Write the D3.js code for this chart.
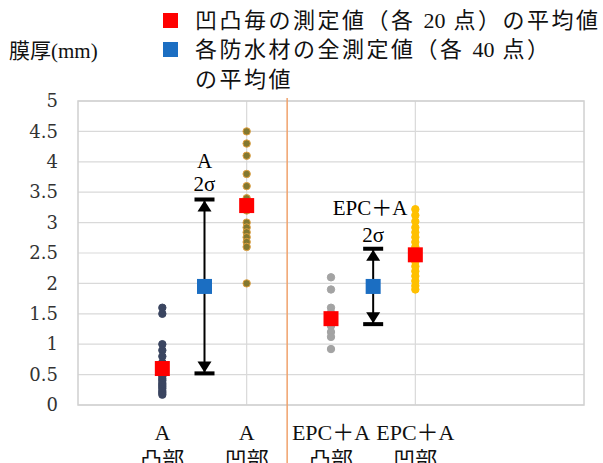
<!DOCTYPE html>
<html>
<head>
<meta charset="utf-8">
<script src="https://cdn.jsdelivr.net/npm/d3@7"></script>
<style>
  html, body { margin: 0; padding: 0; background: #fff; }
  svg { display: block; }
  .serif { font-family: "Liberation Serif", "Noto Sans CJK JP", serif; }
  .tick-num { font-family: "DejaVu Serif", serif; }
</style>
</head>
<body>
<script>
// Category labels (two lines each) and their x positions on the plot axis
const catLine1 = ["A", "A", "EPC＋A", "EPC＋A"];
const catLine2 = ["凸部", "凹部", "凸部", "凹部"];
const catX = [1, 2, 3, 4];

// Individual film-thickness readings (mm) per category
const aConvex = [1.6, 1.5, 1.0, 0.9, 0.8, 0.7, 0.65, 0.6, 0.55, 0.5, 0.47, 0.43, 0.4, 0.36, 0.33, 0.3, 0.27, 0.23, 0.2, 0.17];
const aConcave = [4.5, 4.3, 4.1, 3.8, 3.6, 3.4, 3.3, 3.2, 3.0, 2.92, 2.84, 2.76, 2.68, 2.6, 2.0];
const epcConvex = [2.1, 1.9, 1.6, 1.52, 1.45, 1.4, 1.3, 1.2, 1.12, 0.92];
const epcConcave = [3.22, 3.12, 3.02, 2.92, 2.84, 2.76, 2.68, 2.6, 2.52, 2.44, 2.36, 2.28, 2.2, 2.12, 2.04, 1.96, 1.9];

// Mean of each category (20 readings each)
const groupMeans = [0.6, 3.28, 1.42, 2.47];

// Mean of all 40 readings per material, with ±2σ range
const materialX = [1.5, 3.5];
const materialMeans = [1.95, 1.95];
const sigmaLow = [0.52, 1.33];
const sigmaHigh = [3.38, 2.57];
const materialLabel = ["A", "EPC＋A"];

const yTicks = [0, 0.5, 1, 1.5, 2, 2.5, 3, 3.5, 4, 4.5, 5];
const yTickLabels = ["0", "0.5", "1", "1.5", "2", "2.5", "3", "3.5", "4", "4.5", "5"];

// Legend lines, split so the digits keep normal spacing
const legendParts = [
  ["凹凸毎の測定値（各 ", "20", " 点）の平均値"],
  ["各防水材の全測定値（各 ", "40", " 点）"],
  ["の平均値"]
];

const W = 603, H = 463;
const svg = d3.select("body").append("svg").attr("width", W).attr("height", H);

const plot = { left: 78, right: 584, top: 101, bottom: 405 };
const x = d3.scaleLinear().domain([0, 6]).range([plot.left, plot.right]);
const y = d3.scaleLinear().domain([0, 5]).range([plot.bottom, plot.top]);

// Gridlines
const grid = svg.append("g");
grid.selectAll("line.h").data(yTicks).join("line")
  .attr("x1", plot.left).attr("x2", plot.right)
  .attr("y1", d => y(d)).attr("y2", d => y(d))
  .attr("stroke", "#d9d9d9").attr("stroke-width", 1.2);
grid.selectAll("line.v").data([2, 4]).join("line")
  .attr("x1", d => x(d)).attr("x2", d => x(d))
  .attr("y1", plot.top).attr("y2", plot.bottom)
  .attr("stroke", "#d9d9d9").attr("stroke-width", 1.2);
grid.append("rect")
  .attr("x", plot.left).attr("y", plot.top)
  .attr("width", plot.right - plot.left).attr("height", plot.bottom - plot.top)
  .attr("fill", "none").attr("stroke", "#d0d0d0").attr("stroke-width", 1.5);

// Divider between the two materials
svg.append("line")
  .attr("x1", x(2.48)).attr("x2", x(2.48))
  .attr("y1", plot.top - 3).attr("y2", H)
  .attr("stroke", "#f0a26c").attr("stroke-width", 1.5);

// Y axis tick labels
const yAxis = d3.axisLeft(y).tickValues(yTicks)
  .tickFormat((d, i) => yTickLabels[i]).tickSize(0).tickPadding(0);
const yg = svg.append("g").attr("transform", `translate(${plot.left - 20},0)`).call(yAxis);
yg.select(".domain").remove();
yg.selectAll("text").attr("class", "tick-num")
  .attr("font-size", 18).attr("fill", "#333");

// X axis category labels
const xg = svg.append("g");
catX.forEach((cx, i) => {
  xg.append("text").attr("class", "serif")
    .attr("x", x(cx)).attr("y", 440).attr("text-anchor", "middle")
    .attr("font-size", 22).attr("fill", "#111").text(catLine1[i]);
  xg.append("text").attr("class", "serif")
    .attr("x", x(cx)).attr("y", 467).attr("text-anchor", "middle")
    .attr("font-size", 22).attr("fill", "#111").text(catLine2[i]);
});

// Readings as dots
const series = [
  { xv: 1, vals: aConvex, fill: "#3a4560", stroke: "#3a4560" },
  { xv: 2, vals: aConcave, fill: "#837830", stroke: "#e0a040" },
  { xv: 3, vals: epcConvex, fill: "#a3a3a3", stroke: "#a3a3a3" },
  { xv: 4, vals: epcConcave, fill: "#ffc000", stroke: "#ffc000" }
];
series.forEach(s => {
  svg.append("g").selectAll("circle").data(s.vals).join("circle")
    .attr("cx", x(s.xv)).attr("cy", d => y(d)).attr("r", 3.7)
    .attr("fill", s.fill).attr("stroke", s.stroke).attr("stroke-width", 1);
});

// ±2σ bars with arrowheads and end caps
const eb = svg.append("g");
materialX.forEach((mx, i) => {
  const cx = x(mx), yl = y(sigmaLow[i]), yh = y(sigmaHigh[i]);
  eb.append("line").attr("x1", cx).attr("x2", cx).attr("y1", yh).attr("y2", yl)
    .attr("stroke", "#000").attr("stroke-width", 2);
  eb.append("rect").attr("x", cx - 10).attr("y", yh - 2).attr("width", 20).attr("height", 4).attr("fill", "#000");
  eb.append("rect").attr("x", cx - 10).attr("y", yl - 2).attr("width", 20).attr("height", 4).attr("fill", "#000");
  eb.append("path").attr("d", `M${cx},${yh + 1}L${cx - 7},${yh + 12}L${cx + 7},${yh + 12}Z`).attr("fill", "#000");
  eb.append("path").attr("d", `M${cx},${yl - 1}L${cx - 7},${yl - 12}L${cx + 7},${yl - 12}Z`).attr("fill", "#000");
});

// Material means (blue) and category means (red)
const sq = 15;
svg.append("g").selectAll("rect").data(materialMeans).join("rect")
  .attr("x", (d, i) => x(materialX[i]) - sq / 2).attr("y", d => y(d) - sq / 2)
  .attr("width", sq).attr("height", sq).attr("fill", "#1b6ec2");
svg.append("g").selectAll("rect").data(groupMeans).join("rect")
  .attr("x", (d, i) => x(catX[i]) - sq / 2).attr("y", d => y(d) - sq / 2)
  .attr("width", sq).attr("height", sq).attr("fill", "#ff0000");

// σ range labels
svg.append("text").attr("class", "serif").attr("x", x(1.5)).attr("y", 168)
  .attr("text-anchor", "middle").attr("font-size", 21).text(materialLabel[0]);
svg.append("text").attr("class", "serif").attr("x", x(1.5)).attr("y", 191)
  .attr("text-anchor", "middle").attr("font-size", 21).text("2σ");
svg.append("text").attr("class", "serif").attr("x", 370).attr("y", 215)
  .attr("text-anchor", "middle").attr("font-size", 21).text(materialLabel[1]);
svg.append("text").attr("class", "serif").attr("x", x(3.5)).attr("y", 242)
  .attr("text-anchor", "middle").attr("font-size", 21).text("2σ");

// Y axis title
svg.append("text").attr("class", "serif").attr("x", 9).attr("y", 58)
  .attr("font-size", 21).attr("fill", "#111").text("膜厚(mm)");

// Legend
const lg = svg.append("g");
lg.append("rect").attr("x", 163).attr("y", 13).attr("width", 15).attr("height", 15).attr("fill", "#ff0000");
lg.append("rect").attr("x", 163).attr("y", 42).attr("width", 15).attr("height", 15).attr("fill", "#1b6ec2");
[28, 57, 87].forEach((by, i) => {
  const t = lg.append("text").attr("class", "serif").attr("x", 195).attr("y", by)
    .attr("font-size", 22).attr("fill", "#111");
  legendParts[i].forEach(part => {
    t.append("tspan")
      .attr("letter-spacing", /^\d+$/.test(part) ? 0 : 2.5)
      .text(part);
  });
});
</script>
</body>
</html>
